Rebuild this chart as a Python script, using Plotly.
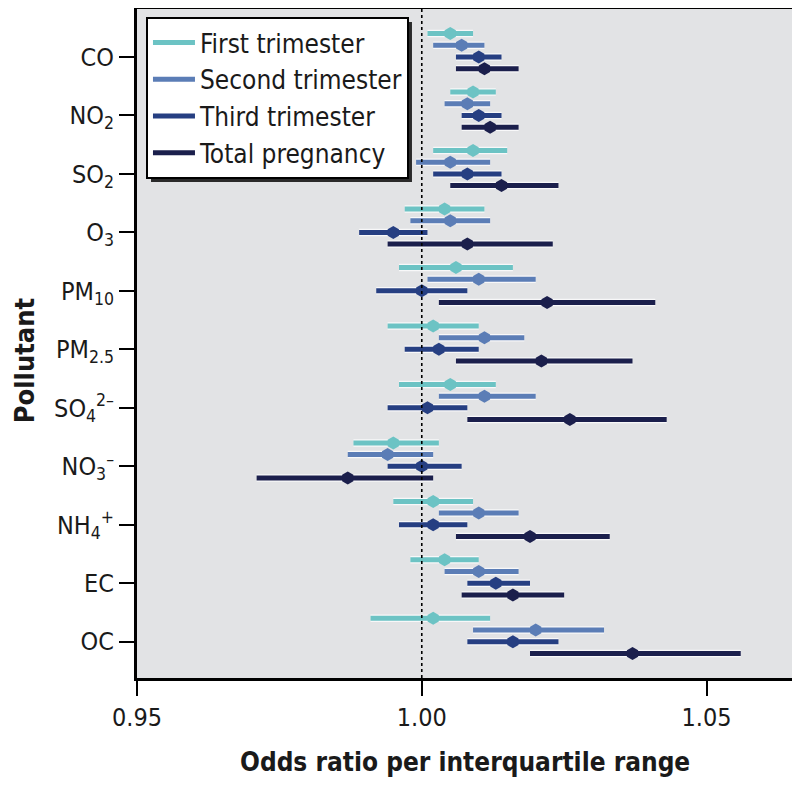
import plotly.graph_objects as go

pollutants = ["CO", "NO<sub>2</sub>", "SO<sub>2</sub>", "O<sub>3</sub>", "PM<sub>10</sub>",
              "PM<sub>2.5</sub>", "SO<sub>4</sub><sup>2–</sup>", "NO<sub>3</sub><sup>–</sup>",
              "NH<sub>4</sub><sup>+</sup>", "EC", "OC"]

series_names = ["First trimester", "Second trimester", "Third trimester", "Total pregnancy"]

first_or = [1.005, 1.009, 1.009, 1.004, 1.006, 1.002, 1.005, 0.995, 1.002, 1.004, 1.002]
first_lo = [1.001, 1.005, 1.002, 0.997, 0.996, 0.994, 0.996, 0.988, 0.995, 0.998, 0.991]
first_hi = [1.009, 1.013, 1.015, 1.011, 1.016, 1.010, 1.013, 1.003, 1.009, 1.010, 1.012]

second_or = [1.007, 1.008, 1.005, 1.005, 1.010, 1.011, 1.011, 0.994, 1.010, 1.010, 1.020]
second_lo = [1.002, 1.004, 0.999, 0.998, 1.001, 1.003, 1.003, 0.987, 1.003, 1.004, 1.009]
second_hi = [1.011, 1.012, 1.012, 1.012, 1.020, 1.018, 1.020, 1.002, 1.017, 1.017, 1.032]

third_or = [1.010, 1.010, 1.008, 0.995, 1.000, 1.003, 1.001, 1.000, 1.002, 1.013, 1.016]
third_lo = [1.006, 1.007, 1.002, 0.989, 0.992, 0.997, 0.994, 0.994, 0.996, 1.008, 1.008]
third_hi = [1.014, 1.014, 1.014, 1.001, 1.008, 1.010, 1.008, 1.007, 1.008, 1.019, 1.024]

total_or = [1.011, 1.012, 1.014, 1.008, 1.022, 1.021, 1.026, 0.987, 1.019, 1.016, 1.037]
total_lo = [1.006, 1.007, 1.005, 0.994, 1.003, 1.006, 1.008, 0.971, 1.006, 1.007, 1.019]
total_hi = [1.017, 1.017, 1.024, 1.023, 1.041, 1.037, 1.043, 1.002, 1.033, 1.025, 1.056]

x_ticks = [0.95, 1.00, 1.05]
x_ticklabels = ["0.95", "1.00", "1.05"]

colors = ["#6cc3c4", "#5b7db6", "#263f82", "#1b1f4c"]
offsets = [-0.4, -0.2, 0.0, 0.2]

FONT = "DejaVu Sans Condensed, Liberation Sans Narrow, Arial Narrow, sans-serif"

data = [(first_or, first_lo, first_hi), (second_or, second_lo, second_hi),
        (third_or, third_lo, third_hi), (total_or, total_lo, total_hi)]

fig = go.Figure()
for k, (est, lo, hi) in enumerate(data):
    ys = [i + offsets[k] for i in range(len(pollutants))]
    lx, ly = [], []
    for a, b, yv in zip(lo, hi, ys):
        lx += [a, b, None]
        ly += [yv, yv, None]
    fig.add_trace(go.Scatter(x=lx, y=ly, mode="lines",
                             line=dict(color="rgba(255,255,255,0.75)", width=7.5),
                             showlegend=False, hoverinfo="skip"))
    fig.add_trace(go.Scatter(x=lx, y=ly, mode="lines", name=series_names[k],
                             line=dict(color=colors[k], width=5),
                             legendgroup=series_names[k], showlegend=True))
    fig.add_trace(go.Scatter(x=est, y=ys, mode="markers",
                             marker=dict(symbol="hexagon", size=13, color=colors[k],
                                         line=dict(width=0)),
                             legendgroup=series_names[k], showlegend=False))

fig.add_shape(type="line", xref="x", yref="paper", x0=1.0, x1=1.0, y0=0, y1=1,
              line=dict(color="black", width=1.6, dash="dot"), layer="above")

# drop shadow behind the legend box
fig.add_shape(type="rect", xref="paper", yref="paper",
              x0=0.0214, x1=0.4198, y0=0.7414, y1=0.9806,
              fillcolor="#2a2a2a", line=dict(width=0), layer="above")

fig.update_xaxes(range=[0.95, 1.065], tickvals=x_ticks, ticktext=x_ticklabels,
                 automargin=False,
                 showgrid=False, zeroline=False, showline=True, linecolor="black",
                 linewidth=3, mirror=True, ticks="outside", ticklen=15, tickwidth=1.5,
                 tickcolor="black", tickfont=dict(family=FONT, size=25, color="#1a1a1a"))
fig.update_yaxes(range=[10.62, -0.82], tickvals=list(range(len(pollutants))),
                 ticktext=pollutants, automargin=False, showgrid=False, zeroline=False,
                 showline=True, linecolor="black", linewidth=3, mirror=True,
                 ticks="outside", ticklen=15, tickwidth=1.5, tickcolor="black",
                 tickfont=dict(family=FONT, size=25, color="#1a1a1a"))

fig.add_annotation(text="<b>Pollutant</b>", xref="paper", yref="paper",
                   x=-0.1725, y=0.475, textangle=-90, showarrow=False,
                   xanchor="center", yanchor="middle",
                   font=dict(family=FONT, size=27, color="#1a1a1a"))
fig.add_annotation(text="<b>Odds ratio per interquartile range</b>", xref="paper",
                   yref="paper", x=0.5, y=-0.1256, showarrow=False,
                   xanchor="center", yanchor="middle",
                   font=dict(family=FONT, size=26, color="#1a1a1a"))

fig.update_layout(
    width=784, height=772,
    margin=dict(l=129, r=0, t=1, b=102),
    paper_bgcolor="white", plot_bgcolor="#e2e3e5",
    legend=dict(x=0.0137, y=0.988, xanchor="left", yanchor="top",
                bgcolor="white", bordercolor="black", borderwidth=2,
                font=dict(family=FONT, size=26, color="#1a1a1a"),
                itemwidth=42, tracegroupgap=0, traceorder="grouped"),
)

fig.write_html("out.html")
